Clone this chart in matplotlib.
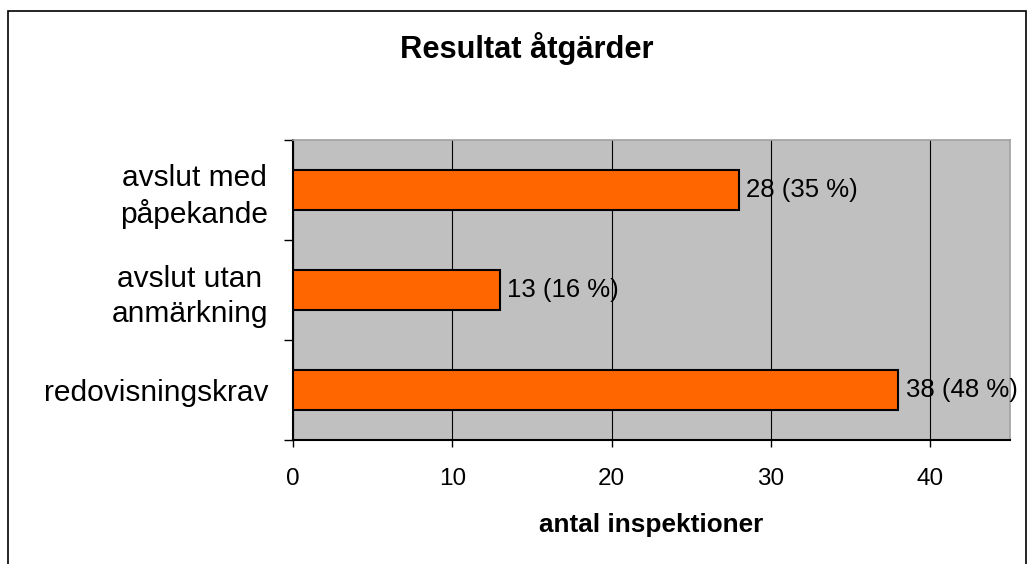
import matplotlib
matplotlib.use("Agg")
import matplotlib.pyplot as plt
from matplotlib.patches import Rectangle

categories = ["avslut med\npåpekande", "avslut utan\nanmärkning", "redovisningskrav"]
values = [28, 13, 38]
percents = [35, 16, 48]
xticks = [0, 10, 20, 30, 40]

plt.rcParams['font.family'] = ['Liberation Sans', 'DejaVu Sans']

W, H = 1035, 564
fig = plt.figure(figsize=(W / 100, H / 100), dpi=100)

# outer frame
fig.patches.append(Rectangle((8 / W, -0.05), (1026 - 8) / W, (H - 11) / H + 0.05,
                             transform=fig.transFigure, fill=False,
                             edgecolor='black', linewidth=1.2))

ax = fig.add_axes([293 / W, (H - 440) / H, 717 / W, 300 / H])
ax.set_facecolor('#C0C0C0')

pos = list(range(len(categories)))
ax.barh(pos, values, height=0.4, color='#FF6600', edgecolor='black',
        linewidth=1.5, zorder=3)
for p, v, pc in zip(pos, values, percents):
    ax.text(v + 0.45, p, f"{v} ({pc} %)", va='center', ha='left',
            fontsize=18.5, zorder=4)

ax.set_xlim(0, 45)
ax.set_ylim(-0.5, len(categories) - 0.5)
ax.invert_yaxis()

ax.set_xticks(xticks)
ax.set_xticklabels([str(t) for t in xticks], fontsize=17.5)
ax.tick_params(axis='x', length=5, width=1, pad=15, direction='out')
ax.grid(axis='x', color='black', linewidth=0.8, zorder=1)

ax.set_yticks(pos)
ax.set_yticklabels(categories, fontsize=21.5, multialignment='center',
                   linespacing=1.3)
ax.tick_params(axis='y', length=0, pad=18)
ax.set_yticks([-0.5, 0.5, 1.5, 2.5], minor=True)
ax.tick_params(axis='y', which='minor', length=6.5, width=1, direction='out')

for s in ['top', 'right']:
    ax.spines[s].set_color('#A0A0A0')
    ax.spines[s].set_linewidth(1.2)
for s in ['left', 'bottom']:
    ax.spines[s].set_color('black')
    ax.spines[s].set_linewidth(1.5)

fig.text(651 / W, 1 - 532 / H, "antal inspektioner", ha='center', va='baseline',
         fontsize=18.8, fontweight='bold')

fig.text(527 / W, 1 - 58 / H, "Resultat åtgärder", ha='center', va='baseline',
         fontsize=22.2, fontweight='bold')

fig.savefig("out.png", dpi=100)
